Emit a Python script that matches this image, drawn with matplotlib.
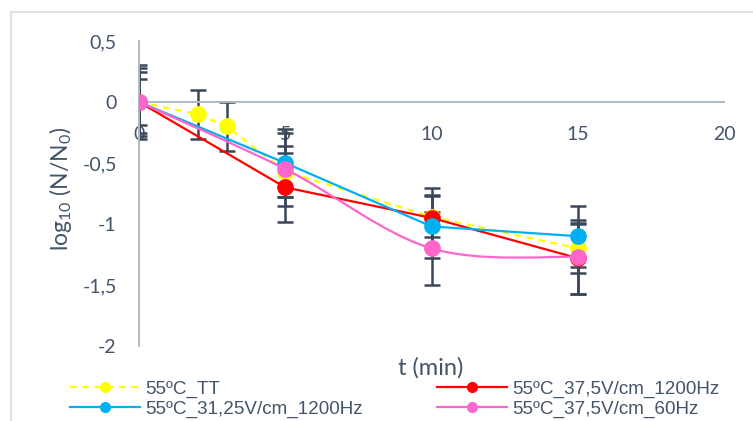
import matplotlib.pyplot as plt
from matplotlib.lines import Line2D
from matplotlib.path import Path
from matplotlib.patches import PathPatch

# data
t_tt = [0, 2, 3, 5, 10, 15]
y_tt = [0, -0.1, -0.2, -0.57, -0.94, -1.2]
e_tt = [0.3, 0.2, 0.2, 0.21, 0.17, 0.2]

t_s = [0, 5, 10, 15]
y_r1200 = [0, -0.7, -0.95, -1.28]
e_r1200 = [0.28, 0.28, 0.245, 0.29]
y_b1200 = [0, -0.5, -1.02, -1.1]
e_b1200 = [0.25, 0.28, 0.26, 0.25]
y_p60 = [0, -0.55, -1.2, -1.27]
e_p60 = [0.19, 0.3, 0.3, 0.3]

labels = ['55ºC_TT', '55ºC_37,5V/cm_1200Hz', '55ºC_31,25V/cm_1200Hz', '55ºC_37,5V/cm_60Hz']
colors = ['#FFFF00', '#FF0000', '#00B0F0', '#FF66CC']

xticks = [0, 5, 10, 15, 20]
yticks = [0.5, 0, -0.5, -1, -1.5, -2]
yticklabels = ['0,5', '0', '-0,5', '-1', '-1,5', '-2']

txt = '#44546A'
axcol = '#B0B8C6'
errcol = '#3B4658'


def smooth_path(xs, ys):
    # Excel-style smoothed line: catmull-rom through the points as bezier segments
    pts = list(zip(xs, ys))
    verts = [pts[0]]
    codes = [Path.MOVETO]
    n = len(pts)
    for i in range(n - 1):
        p0 = pts[i - 1] if i > 0 else pts[i]
        p1 = pts[i]
        p2 = pts[i + 1]
        p3 = pts[i + 2] if i + 2 < n else pts[i + 1]
        c1 = (p1[0] + (p2[0] - p0[0]) / 6, p1[1] + (p2[1] - p0[1]) / 6)
        c2 = (p2[0] - (p3[0] - p1[0]) / 6, p2[1] - (p3[1] - p1[1]) / 6)
        verts += [c1, c2, p2]
        codes += [Path.CURVE4] * 3
    return Path(verts, codes)


fig = plt.figure(figsize=(7.53, 4.21), dpi=100)
ax = fig.add_axes([139 / 753, 1 - 346 / 421, 585 / 753, 305 / 421])
ax.set_xlim(0, 20)
ax.set_ylim(-2, 0.5)

# error bars first, under the lines
for tx, yy, ee in [(t_tt, y_tt, e_tt), (t_s, y_r1200, e_r1200),
                   (t_s, y_b1200, e_b1200), (t_s, y_p60, e_p60)]:
    ax.errorbar(tx, yy, yerr=ee, fmt='none', ecolor=errcol, elinewidth=1.8,
                capsize=6, capthick=1.8, zorder=2)

ms = 11
ax.plot(t_tt, y_tt, color=colors[0], lw=1.6, ls=(0, (3, 2.5)), marker='o', ms=ms, zorder=3)
ax.plot(t_s, y_r1200, color=colors[1], lw=1.6, marker='o', ms=ms, zorder=3)
ax.plot(t_s, y_b1200, color=colors[2], lw=1.6, marker='o', ms=ms, zorder=3)
ax.add_patch(PathPatch(smooth_path(t_s, y_p60), facecolor='none', edgecolor=colors[3],
                       lw=1.6, zorder=3))
ax.plot(t_s, y_p60, color=colors[3], ls='none', marker='o', ms=ms, zorder=3)

for s in ['top', 'right']:
    ax.spines[s].set_visible(False)
ax.spines['bottom'].set_position(('data', 0))
for s in ['bottom', 'left']:
    ax.spines[s].set_color(axcol)
    ax.spines[s].set_linewidth(1.4)

ax.set_xticks(xticks)
ax.set_xticklabels([str(v) for v in xticks])
ax.set_yticks(yticks)
ax.set_yticklabels(yticklabels)
ax.tick_params(axis='both', length=0, labelsize=14, labelcolor=txt)
ax.tick_params(axis='x', pad=17)
ax.tick_params(axis='y', pad=16)
for lb in ax.get_xticklabels() + ax.get_yticklabels():
    lb.set_fontfamily('Lato')

ax.set_xlabel('t (min)', fontsize=17, color=txt, family='Lato', va='center')
ax.xaxis.set_label_coords((431 - 139) / 585, (346 - 368) / 305)
ax.set_ylabel(r'log$_{\mathregular{10}}$ (N/N$_{\mathregular{0}}$)', fontsize=16.5,
              color=txt, family='Lato', va='center')
ax.yaxis.set_label_coords((60 - 139) / 585, (346 - 189) / 305)

# legend in two columns, placed separately
def handle(i, ls='-'):
    return Line2D([], [], color=colors[i], lw=1.6, ls=ls, marker='o', ms=7)

leg_kw = dict(frameon=False, handlelength=3.7, handletextpad=0.3,
              labelspacing=0.12, borderpad=0, borderaxespad=0, labelcolor=txt,
              prop={'family': 'Liberation Sans', 'size': 13.6})
fig.legend([handle(0, (0, (3, 2.5))), handle(2)], [labels[0], labels[2]],
           loc='center left', bbox_to_anchor=(70 / 753, 1 - 399 / 421), **leg_kw)
fig.legend([handle(1), handle(3)], [labels[1], labels[3]],
           loc='center left', bbox_to_anchor=(437 / 753, 1 - 399 / 421), **leg_kw)

# light chart frame (left and top edges visible)
fig.add_artist(Line2D([11 / 753, 11 / 753], [0, 1 - 12 / 421], color='#DDE2E9', lw=1.5))
fig.add_artist(Line2D([11 / 753, 1], [1 - 12 / 421, 1 - 12 / 421], color='#DDE2E9', lw=1.5))

fig.savefig('out.png', dpi=100)
